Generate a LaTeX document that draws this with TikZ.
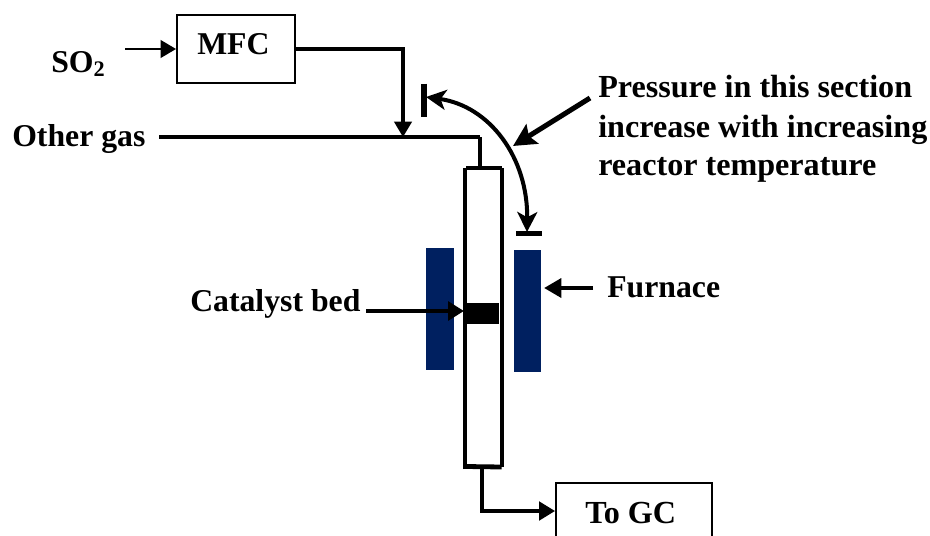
\documentclass[tikz,border=0pt]{standalone}
\usepackage{fontspec}
\setmainfont{Liberation Serif}
\usetikzlibrary{arrows.meta}
\definecolor{furn}{RGB}{0,32,96}
\tikzset{
 lab/.style={inner sep=0pt,font=\fontsize{23.8}{26}\selectfont\bfseries,anchor=base west},
 labb/.style={inner sep=0pt,font=\fontsize{24.1}{26}\selectfont\bfseries,anchor=base west},
 wire/.style={draw=black,line width=2.3pt,line join=miter},
 tip/.style={-{Triangle[length=11.5pt,width=13pt]}},
 boxx/.style={draw=black,line width=1.4pt,inner sep=0pt,fill=white},
}
\begin{document}
\begin{tikzpicture}[x=0.75pt,y=-0.75pt]
\useasboundingbox (0,0) rectangle (930,535);
\fill[white] (0,0) rectangle (930,535);
% furnace
\node[fill=furn,inner sep=0pt,minimum width=20.4pt,minimum height=91.5pt] (fl) at (440,309) {};
\node[fill=furn,inner sep=0pt,minimum width=20.6pt,minimum height=91.5pt] (fr) at (527.7,311) {};
% MFC
\node[boxx,minimum width=88.5pt,minimum height=51pt] (mfc) at (236,49) {};
\node[lab] (mfct) at (197,55) {MFC};
\node[lab] (so) at (51,72) {SO\textsubscript{2}};
\coordinate (soS) at (125,49);
\draw[wire,line width=2pt,tip] (soS) -- (mfc.west);
\coordinate (mj) at (403,137);
\coordinate (mc) at (403,49);
\draw[wire,tip] (mfc.east |- mc) -- (mc) -- (mj);
% other gas
\node[lab] (og) at (12,146) {Other gas};
\coordinate (ogS) at (159,137);
\coordinate (ogC) at (480,137);
\coordinate (top) at (480,168);
\draw[wire,line width=3pt] (ogS) -- (ogC);
\draw[wire,line width=3.6pt] (ogC) -- (top);
% reactor
\coordinate (rtl) at (464.5,168);
\coordinate (rtr) at (501.7,168);
\coordinate (rbl) at (464.5,469);
\coordinate (rbr) at (501.7,467);
\draw[wire,line width=3pt] (rbl) -- (rtl);
\draw[wire,line width=3pt] (rbr) -- (rtr);
\draw[wire,line width=3.6pt] (466,168) -- (rtr);
\draw[wire,line width=3.6pt] (466,466.5) -- (rbr);
\node[fill=black,inner sep=0pt,minimum width=25.5pt,minimum height=15.8pt] (cat) at (482,313.5) {};
% catalyst label
\node[lab] (cl) at (190,311) {Catalyst bed};
\coordinate (cS) at (366,311);
\draw[wire,line width=3.6pt,-{Triangle[length=12pt,width=14pt]}] (cS) -- (464,311);
% furnace label
\node[lab] (fu) at (607,297) {Furnace};
\coordinate (fS) at (593,288);
\coordinate (fE) at (544,288);
\draw[wire,line width=3.4pt,-{Triangle[length=13pt,width=14pt]}] (fS) -- (fE);
% bars
\coordinate (b1a) at (424,83.5);
\coordinate (b1b) at (424,117);
\coordinate (b2a) at (516,233.5);
\coordinate (b2b) at (542,233.5);
\draw[wire,line width=3.8pt] (b1a) -- (b1b);
\draw[wire,line width=3.8pt] (b2a) -- (b2b);
% curve
\coordinate (c1) at (426,97);
\coordinate (c2) at (527,232);
\draw[wire,line width=3pt,{Stealth[length=15pt,width=15pt,inset=4pt]}-{Stealth[length=15pt,width=15pt,inset=4pt]}] (c1) .. controls (490,106) and (528,158) .. (c2);
% annotation
\coordinate (pS) at (590,98);
\coordinate (pE) at (513,146);
\draw[wire,line width=3.8pt,-{Stealth[length=17pt,width=17pt,inset=3pt]}] (pS) -- (pE);
\node[labb] (p1) at (598,97) {Pressure in this section};
\node[labb] (p2) at (598,137) {increase with increasing};
\node[labb] (p3) at (598,175) {reactor temperature};
% GC
\begin{scope}
\clip (0,0) rectangle (930,535);
\node[boxx,minimum width=117pt,minimum height=70pt,anchor=north west] (gc) at (555,482) {};
\end{scope}
\node[labb] (gct) at (585,523) {To GC};
\coordinate (gS) at (482,467);
\coordinate (gC) at (482,511);
\draw[wire,-{Triangle[length=12pt,width=14pt]}] (gS) -- (gC) -- (gc.west |- gC);
\end{tikzpicture}
\end{document}
